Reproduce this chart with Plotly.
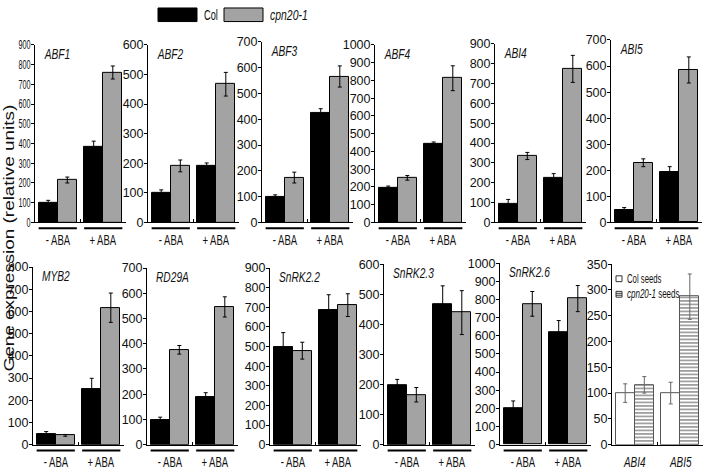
import json
import plotly.graph_objects as go

W, H = 705, 474

# ---------------- data ----------------
genes = ["ABF1", "ABF2", "ABF3", "ABF4", "ABI4", "ABI5",
         "MYB2", "RD29A", "SnRK2.2", "SnRK2.3", "SnRK2.6"]
groups = ["- ABA", "+ ABA"]

col_minus = [100, 100, 100, 196, 96, 48, 47, 99, 497, 197, 200]
col_plus = [385, 191, 424, 444, 226, 194, 249, 189, 685, 468, 621]
cpn_minus = [215, 191, 174, 251, 335, 229, 42, 376, 479, 166, 776]
cpn_plus = [760, 467, 566, 812, 774, 585, 617, 546, 711, 439, 805]

col_minus_err = [12, 10, 7, 9, 20, 9, 12, 10, 74, 20, 41]
col_plus_err = [27, 10, 17, 9, 20, 20, 50, 17, 79, 60, 63]
cpn_minus_err = [15, 20, 21, 13, 18, 15, 4, 17, 43, 24, 68]
cpn_plus_err = [33, 40, 41, 70, 68, 50, 66, 40, 58, 73, 72]

y_max = [900, 600, 700, 1000, 900, 700, 800, 700, 900, 600, 1000]

seed_genes = ["ABI4", "ABI5"]
seed_col = [100, 100]
seed_col_err = [18, 21]
seed_cpn = [116, 287]
seed_cpn_err = [16, 44]
seed_y_max = 350

# ---------------- layout (pixels) ----------------
panel_left = [35, 148, 262, 375, 495, 611, 33, 147, 270, 384, 500]
panel_top = [39, 39, 36, 39, 38, 34, 268, 269, 269, 265, 264]
panel_bottom = [222] * 6 + [451] * 5
panel_w = 91
seed_left, seed_top, seed_bottom = 612, 265, 451

BW = 0.42
FAM = "Liberation Sans, Arial, sans-serif"
TICKFONT = dict(family=FAM, size=12.5, color="#111")


def px(x):
    return x / W


def py(y):
    return 1 - y / H


fig = go.Figure()
layout = dict(width=W, height=H, margin=dict(l=0, r=0, t=0, b=0),
              paper_bgcolor="white", plot_bgcolor="white", showlegend=False)
shapes, annotations, squeeze = [], [], []


def add_text(text, x, y, xref="paper", xanchor="left", size=13, scale=0.7, angle=0):
    annotations.append(dict(text=text, x=x, y=y, xref=xref, yref="paper",
                            xanchor=xanchor, yanchor="middle", showarrow=False,
                            textangle=angle, font=dict(family=FAM, size=size, color="#111")))
    squeeze.append([scale, "left" if xanchor == "left" else "middle"])


def add_axes(i, left, top, bottom, ymax, dtick):
    xa = "xaxis" if i == 1 else f"xaxis{i}"
    ya = "yaxis" if i == 1 else f"yaxis{i}"
    layout[xa] = dict(domain=[px(left), px(left + panel_w)], range=[-0.5, 1.5],
                      anchor=f"y{i}", showline=True, linecolor="black", linewidth=1,
                      tickvals=[0.5, 1.5], ticks="inside", ticklen=3, tickcolor="black",
                      showticklabels=False, showgrid=False, zeroline=False, fixedrange=True)
    layout[ya] = dict(domain=[py(bottom), py(top)], range=[0, ymax], dtick=dtick,
                      anchor=f"x{i}", showline=True, linecolor="black", linewidth=1,
                      ticks="outside", ticklen=3, tickcolor="black", tickfont=TICKFONT,
                      ticklabelstandoff=-2,
                      showgrid=False, zeroline=False, fixedrange=True)


for k, g in enumerate(genes):
    i = k + 1
    left, top, bottom = panel_left[k], panel_top[k], panel_bottom[k]
    add_axes(i, left, top, bottom, y_max[k], 100)
    xr, yr = f"x{i}", f"y{i}"
    fig.add_trace(go.Bar(x=[0, 1], y=[col_minus[k], col_plus[k]], offset=-BW, width=BW,
                         marker=dict(color="black", line=dict(color="black", width=1)),
                         error_y=dict(type="data", array=[col_minus_err[k], col_plus_err[k]],
                                      color="black", thickness=1, width=2),
                         xaxis=xr, yaxis=yr, name="Col"))
    fig.add_trace(go.Bar(x=[0, 1], y=[cpn_minus[k], cpn_plus[k]], offset=0, width=BW,
                         marker=dict(color="#a3a3a3", line=dict(color="black", width=1)),
                         error_y=dict(type="data", array=[cpn_minus_err[k], cpn_plus_err[k]],
                                      color="black", thickness=1, width=2),
                         xaxis=xr, yaxis=yr, name="cpn20-1"))
    add_text(f"<i>{g}</i>", px(left + 7), py(top + 9), size=15, scale=0.68)
    for j, gl in enumerate(groups):
        shapes.append(dict(type="line", xref=xr, yref="paper", x0=j - BW, x1=j + BW,
                           y0=py(bottom + 6), y1=py(bottom + 6),
                           line=dict(color="black", width=2)))
        add_text(gl, j, py(bottom + 18), xref=xr, xanchor="center", size=14, scale=0.68)

# seeds panel
i = len(genes) + 1
add_axes(i, seed_left, seed_top, seed_bottom, seed_y_max, 50)
xr, yr = f"x{i}", f"y{i}"
fig.add_trace(go.Bar(x=[0, 1], y=seed_col, offset=-BW, width=BW,
                     marker=dict(color="white", line=dict(color="#555", width=1)),
                     error_y=dict(type="data", array=seed_col_err, color="#666", thickness=1, width=2),
                     xaxis=xr, yaxis=yr, name="Col seeds"))
fig.add_trace(go.Bar(x=[0, 1], y=seed_cpn, offset=0, width=BW,
                     marker=dict(color="white", line=dict(color="#555", width=1),
                                 pattern=dict(shape="-", fgcolor="#111", bgcolor="white",
                                              size=3.5, solidity=0.4)),
                     error_y=dict(type="data", array=seed_cpn_err, color="#666", thickness=1, width=2),
                     xaxis=xr, yaxis=yr, name="cpn20-1 seeds"))
for j, gl in enumerate(seed_genes):
    add_text(f"<i>{gl}</i>", j, py(seed_bottom + 17), xref=xr, xanchor="center", size=15.5, scale=0.64)

# seeds legend
shapes.append(dict(type="rect", xref="paper", yref="paper", x0=px(616), x1=px(622),
                   y0=py(283), y1=py(277), line=dict(color="#333", width=1), fillcolor="white"))
add_text("Col seeds", px(625), py(280), size=12.5, scale=0.62)
shapes.append(dict(type="rect", xref="paper", yref="paper", x0=px(616), x1=px(622),
                   y0=py(299), y1=py(293), line=dict(color="#333", width=1), fillcolor="white"))
for yy in [295, 297]:
    shapes.append(dict(type="line", xref="paper", yref="paper", x0=px(616), x1=px(622),
                       y0=py(yy), y1=py(yy), line=dict(color="#333", width=1)))
add_text("<i>cpn20-1</i> seeds", px(625), py(296), size=12.5, scale=0.64)

# top legend
shapes.append(dict(type="rect", xref="paper", yref="paper", x0=px(158), x1=px(197),
                   y0=py(15), y1=py(1), line=dict(color="black", width=1), fillcolor="black"))
add_text("Col", px(202), py(8.5), size=14.5, scale=0.64)
shapes.append(dict(type="rect", xref="paper", yref="paper", x0=px(224), x1=px(263),
                   y0=py(15), y1=py(1), line=dict(color="black", width=1), fillcolor="#a3a3a3"))
add_text("<i>cpn20-1</i>", px(268), py(8.5), size=14.5, scale=0.72)

# y-axis title
add_text("Gene expression (relative units)", px(9), py(238), xanchor="center",
         size=14, scale=1.35, angle=-90)

layout["shapes"] = shapes
layout["annotations"] = annotations
layout["bargap"] = 0
fig.update_layout(**layout)

post = """
var gd = document.querySelector('.plotly-graph-div');
var SQ = %s;
function squeezeText(t, s, mode){
  var b = t.getBBox();
  var p;
  if (mode === 'right') p = b.x + b.width;
  else if (mode === 'left') p = b.x;
  else p = b.x + b.width / 2;
  var tr = t.getAttribute('transform') || '';
  t.setAttribute('transform', tr + ' translate(' + p + ',0) scale(' + s + ',1) translate(' + (-p) + ',0)');
}
gd.querySelectorAll('.ytick text').forEach(function(t){ squeezeText(t, 0.58, 'right'); });
gd.querySelectorAll('g.annotation').forEach(function(g){
  var i = +g.getAttribute('data-index');
  var t = g.querySelector('text.annotation-text');
  if (t && SQ[i]) squeezeText(t, SQ[i][0], SQ[i][1]);
});
document.body.style.margin = '0';
document.body.style.overflow = 'hidden';
""" % json.dumps(squeeze)

fig.write_html("out.html", config={"displayModeBar": False}, post_script=post)
